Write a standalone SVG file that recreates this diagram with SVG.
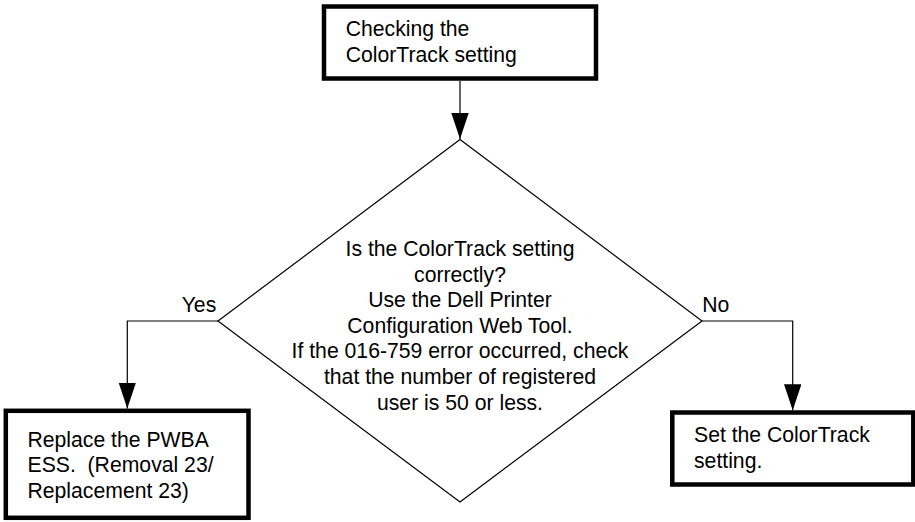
<svg xmlns="http://www.w3.org/2000/svg" width="915" height="522" viewBox="0 0 915 522">
<style>
text{font-family:"Liberation Sans",Arial,sans-serif;font-size:21.2px;fill:#000}
.box{fill:#fff;stroke:#000;stroke-width:4.5}
.dia{fill:#fff;stroke:#000;stroke-width:1.2}
.conn{fill:none;stroke:#000;stroke-width:1.2}
.mid{text-anchor:middle}
</style>
<defs>
<marker id="arr" markerUnits="userSpaceOnUse" markerWidth="26" markerHeight="18" refX="26" refY="8.7" orient="auto">
<path d="M0,0 L26,8.7 L0,17.4 z" fill="#000"/>
</marker>
</defs>
<rect width="915" height="522" fill="#fff"/>
<g id="connectors">
<path class="conn" d="M460,81 V139" marker-end="url(#arr)"/>
<path class="conn" d="M218,321 H127.3 V408.5" marker-end="url(#arr)"/>
<path class="conn" d="M702,321 H792.7 V410.3" marker-end="url(#arr)"/>
</g>
<g id="start">
<rect class="box" x="324" y="6.5" width="272" height="72"/>
<text x="345.7" y="35.7">Checking the</text>
<text x="345.7" y="62">ColorTrack setting</text>
</g>
<g id="decision">
<polygon class="dia" points="460,139.5 702,321 460,502 218,321"/>
<text class="mid" x="460" y="256">Is the ColorTrack setting</text>
<text class="mid" x="460" y="281.6">correctly?</text>
<text class="mid" x="460" y="307.2">Use the Dell Printer</text>
<text class="mid" x="460" y="332.8">Configuration Web Tool.</text>
<text class="mid" x="460" y="358.4">If the 016-759 error occurred, check</text>
<text class="mid" x="460" y="384">that the number of registered</text>
<text class="mid" x="460" y="409.6">user is 50 or less.</text>
</g>
<g id="labels">
<text x="181.7" y="311.7">Yes</text>
<text x="702.3" y="311.7">No</text>
</g>
<g id="replace">
<rect class="box" x="5.8" y="410.8" width="242.7" height="107"/>
<text x="27.5" y="446.7">Replace the PWBA</text>
<text x="27.5" y="472.3">ESS.&#160; (Removal 23/</text>
<text x="27.5" y="497.9">Replacement 23)</text>
</g>
<g id="set">
<rect class="box" x="672.3" y="412.5" width="241" height="72"/>
<text x="694" y="442.3">Set the ColorTrack</text>
<text x="694" y="467.9">setting.</text>
</g>
</svg>
